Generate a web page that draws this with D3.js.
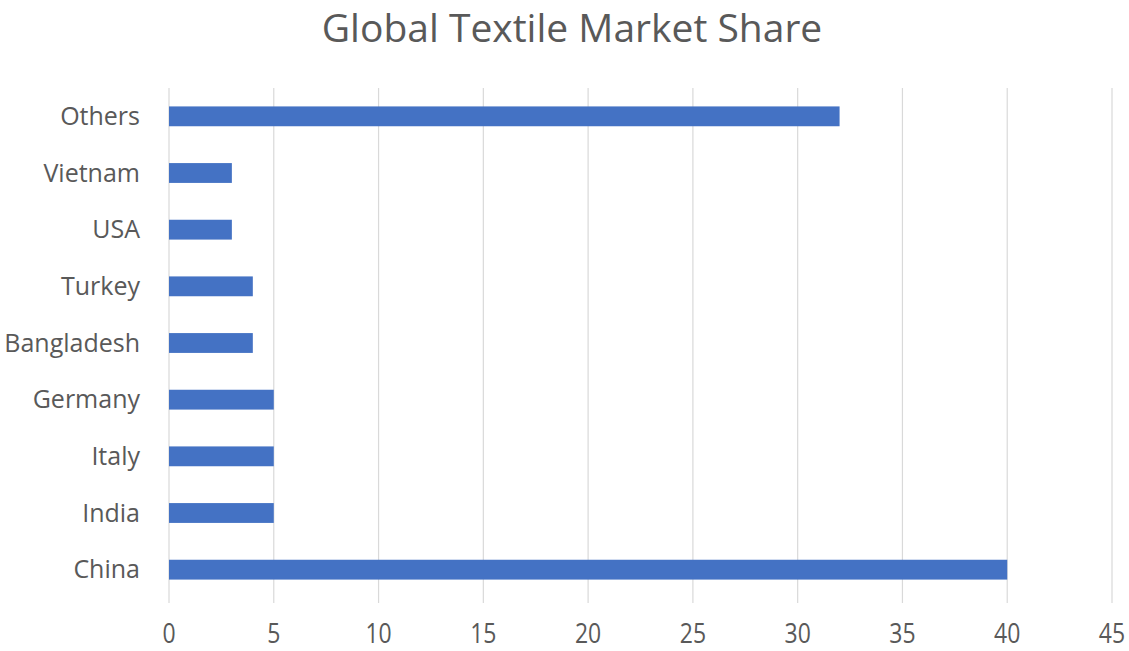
<!DOCTYPE html>
<html lang="en">
<head>
  <meta charset="UTF-8">
  <title>Global Textile Market Share</title>
  <style>
    * { padding: 0; margin: 0; }
    body { background: #fff; }
    #app { width: 1129px; height: 651px; }
    text { font-family: "Open Sans", "Noto Sans", sans-serif; fill: #595959; }
  </style>
</head>
<body>
<div id="app"></div>
<script src="https://cdn.jsdelivr.net/npm/d3@7"></script>
<script>
  // data, bottom to top as in the picture
  var countries = ["China", "India", "Italy", "Germany", "Bangladesh", "Turkey", "USA", "Vietnam", "Others"];
  var shares = [40, 5, 5, 5, 4, 4, 3, 3, 32];
  var xTicks = [0, 5, 10, 15, 20, 25, 30, 35, 40, 45];

  var W = 1129, H = 651;
  var plotLeft = 169, plotRight = 1112, plotTop = 88, plotBottom = 598;

  var svg = d3.select('#app').append('svg').attr('width', W).attr('height', H);

  var x = d3.scaleLinear().domain([0, 45]).range([plotLeft, plotRight]);
  var y = d3.scaleBand().domain(countries).range([plotBottom, plotTop]).paddingInner(0.65).paddingOuter(0.325);

  // title
  svg.append('text')
    .attr('x', 572).attr('y', 42)
    .attr('text-anchor', 'middle')
    .style('font-size', '39px')
    .text('Global Textile Market Share');

  // vertical gridlines
  svg.append('g').selectAll('line')
    .data(xTicks).enter().append('line')
    .attr('x1', d => x(d)).attr('x2', d => x(d))
    .attr('y1', plotTop).attr('y2', 603)
    .attr('stroke', '#d9d9d9').attr('stroke-width', 1.2);

  // bars
  svg.append('g').selectAll('rect')
    .data(countries).enter().append('rect')
    .attr('x', x(0))
    .attr('y', d => y(d))
    .attr('width', (d, i) => x(shares[i]) - x(0))
    .attr('height', y.bandwidth())
    .attr('fill', '#4472C4');

  // x tick labels (the source picture is a bit stretched vertically)
  svg.append('g').selectAll('text')
    .data(xTicks).enter().append('text')
    .attr('transform', d => 'translate(' + x(d) + ',643) scale(1,1.2)')
    .attr('text-anchor', 'middle')
    .style('font-size', '23px')
    .text(d => d);

  // category labels
  svg.append('g').selectAll('text')
    .data(countries).enter().append('text')
    .attr('x', 140)
    .attr('y', d => y(d) + y.bandwidth() / 2)
    .attr('dy', '0.35em')
    .attr('text-anchor', 'end')
    .style('font-size', '25px')
    .text(d => d);
</script>
</body>
</html>
